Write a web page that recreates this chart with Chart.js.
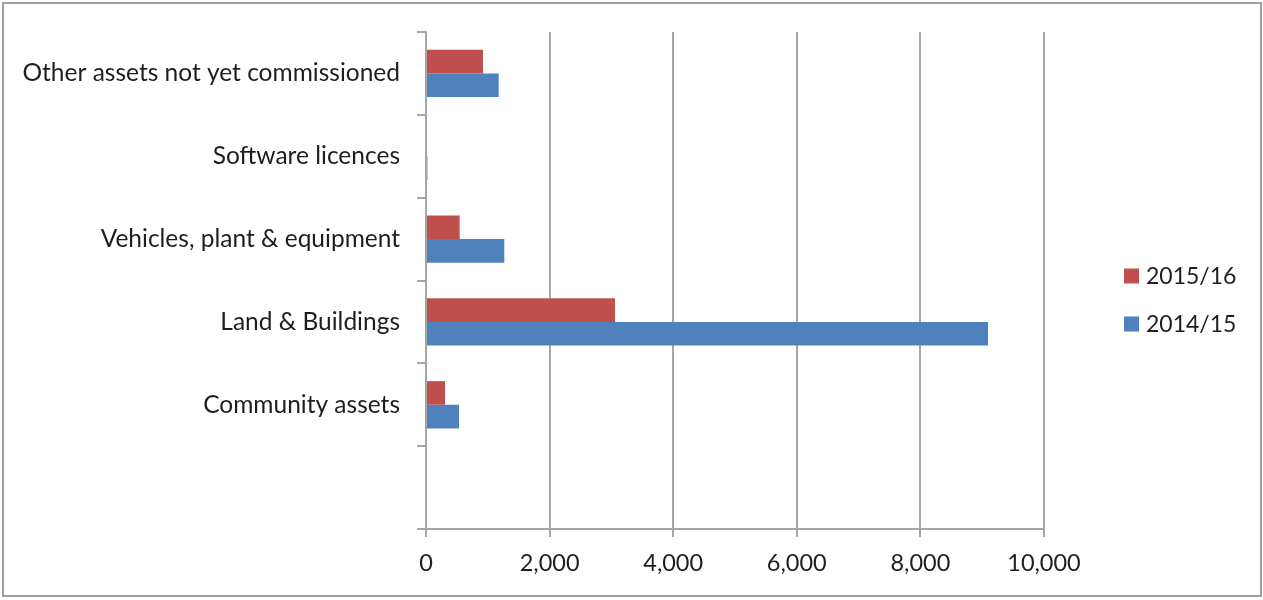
<!DOCTYPE html>
<html>
<head>
<meta charset="utf-8">
<script src="https://cdn.jsdelivr.net/npm/chart.js@4/dist/chart.umd.min.js"></script>
<style>
  html, body { margin: 0; padding: 0; background: #fff; }
  #wrap { position: relative; width: 1263px; height: 600px; }
  #frame {
    position: absolute; left: 2px; top: 2px; width: 1260px; height: 595px;
    box-sizing: border-box; border: 2px solid #a0a0a4; pointer-events: none;
  }
  canvas { position: absolute; left: 0; top: 0; }
</style>
</head>
<body>
<div id="wrap">
  <canvas id="cc" width="1263" height="600"></canvas>
  <div id="frame"></div>
</div>
<script>
// asset categories, top to bottom (last slot left empty)
const categories = [
  "Other assets not yet commissioned",
  "Software licences",
  "Vehicles, plant & equipment",
  "Land & Buildings",
  "Community assets",
  ""
];
const seriesNames = ["2015/16", "2014/15"];
const values1516 = [922, 0, 545, 3058, 307, null];
const values1415 = [1176, 22, 1267, 9094, 534, null];
const xTicks = [0, 2000, 4000, 6000, 8000, 10000];

const RED = "#C0504D";
const BLUE = "#4F81BD";
const GRID = "#a6a6a6";
const TEXT = "#1e1e1e";
const FONT = "Lato, 'DejaVu Sans', sans-serif";
const FONT_SIZE = 23;

// legend drawn to the right of the plot, centred vertically
const sideLegend = {
  id: "sideLegend",
  afterDraw(chart) {
    const ctx = chart.ctx;
    const sets = chart.data.datasets;
    const x = chart.chartArea.right + 80;
    const step = 48;
    let y = chart.height / 2 - step * (sets.length - 1) / 2;
    ctx.save();
    ctx.font = FONT_SIZE + "px " + FONT;
    ctx.textBaseline = "middle";
    sets.forEach(function(ds) {
      ctx.fillStyle = ds.backgroundColor;
      ctx.fillRect(x, y - 7.5, 15, 15);
      ctx.fillStyle = TEXT;
      ctx.fillText(ds.label, x + 22, y + 1);
      y += step;
    });
    ctx.restore();
  }
};

let chartId = document.getElementById("cc");
let chart = new Chart(chartId, {
  type: "bar",
  data: {
    labels: categories,
    datasets: [
      {
        label: seriesNames[0],
        data: values1516,
        backgroundColor: RED,
        borderWidth: 0
      },
      {
        label: seriesNames[1],
        data: values1415,
        backgroundColor: BLUE,
        borderWidth: 0
      }
    ]
  },
  options: {
    indexAxis: "y",
    responsive: false,
    animation: false,
    datasets: {
      bar: { barPercentage: 1.0, categoryPercentage: 0.571 }
    },
    layout: { padding: { top: 32, right: 219, bottom: 0, left: 0 } },
    plugins: {
      legend: { display: false },
      tooltip: { enabled: false }
    },
    scales: {
      x: {
        min: 0,
        max: 10000,
        afterBuildTicks: function(scale) {
          scale.ticks = xTicks.map(function(v) { return { value: v }; });
        },
        afterFit: function(scale) { scale.height = 71; },
        grid: { color: GRID, lineWidth: 2, tickLength: 8 },
        border: { color: GRID, width: 2 },
        ticks: {
          color: TEXT,
          padding: 12,
          maxRotation: 0,
          font: { family: FONT, size: 23.5 },
          callback: function(v) { return v.toLocaleString("en-US"); }
        }
      },
      y: {
        afterFit: function(scale) { scale.width = 426; },
        grid: { drawOnChartArea: false, offset: true, color: GRID, lineWidth: 2, tickLength: 9 },
        border: { color: GRID, width: 2 },
        ticks: {
          color: TEXT,
          padding: 17,
          font: { family: FONT, size: 24.5 }
        }
      }
    }
  },
  plugins: [sideLegend]
});
</script>
</body>
</html>
